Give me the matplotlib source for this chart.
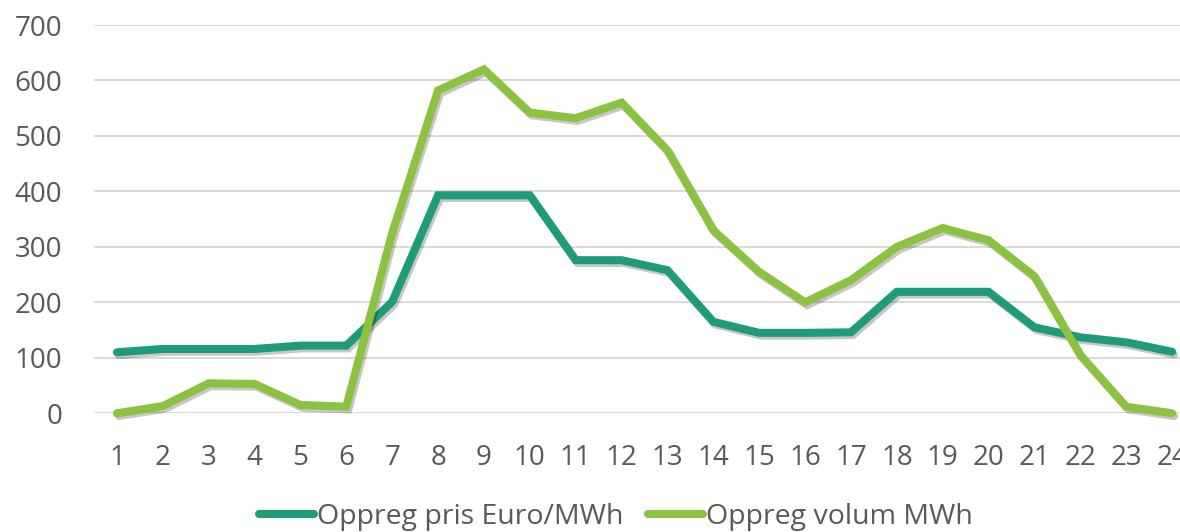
import matplotlib.pyplot as plt
import matplotlib.patheffects as pe
import numpy as np

hours = list(range(1, 25))
pris = [110, 116, 116, 116, 122, 122, 201, 393, 393, 393, 276, 276,
        258, 165, 145, 145, 146, 219, 219, 219, 155, 137, 128, 111]
volum = [0, 13, 54, 53, 15, 12, 325, 582, 620, 542, 532, 560,
         474, 330, 255, 200, 240, 300, 334, 312, 247, 105, 12, 0]
labels = ['Oppreg pris Euro/MWh', 'Oppreg volum MWh']
colors = ['#1e9b78', '#8bc240']

plt.rcParams['font.family'] = ['Open Sans', 'DejaVu Sans']

fig = plt.figure(figsize=(11.8, 5.32), dpi=100)
# the right edge of the plot area runs past the figure, as in the source
ax = fig.add_axes([94 / 1180, 1 - 413.3 / 532, 1101 / 1180, 388.3 / 532])

shadow = [pe.SimpleLineShadow(offset=(1.5, -2), alpha=0.22, shadow_color='black'), pe.Normal()]
for ys, lab, c in zip([pris, volum], labels, colors):
    ax.plot(hours, ys, color=c, lw=5.8, label=lab, solid_joinstyle='miter',
            solid_capstyle='round', path_effects=shadow, clip_on=False)

ax.set_xlim(0.5, 24.5)
ax.set_ylim(0, 700)
ax.set_yticks(range(0, 701, 100))
ax.set_xticks(hours)
ax.yaxis.grid(True, color='#d9d9d9', lw=1.4)
ax.set_axisbelow(True)
for s in ax.spines.values():
    s.set_visible(False)
ax.tick_params(length=0, labelsize=20, colors='#595959')
ax.tick_params(axis='y', pad=23)
ax.tick_params(axis='x', pad=22)

leg = fig.legend(loc='center', bbox_to_anchor=(616 / 1180, 1 - 517 / 532), ncol=2,
                 frameon=False, fontsize=20.5, labelcolor='#595959', handlelength=1.95,
                 handletextpad=0.1, columnspacing=0.85, borderpad=0)
for h in leg.get_lines():
    h.set_path_effects([pe.Normal()])

fig.savefig('out.png', dpi=100)
